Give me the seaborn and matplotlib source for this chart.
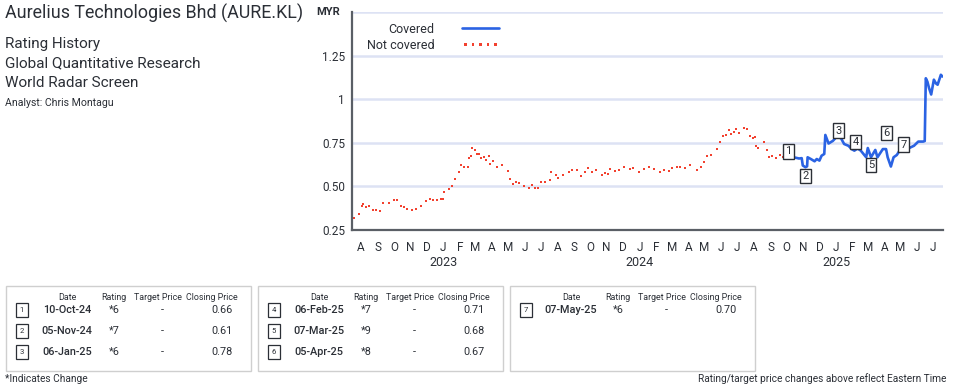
import pandas as pd
import numpy as np
import seaborn as sns
import matplotlib.pyplot as plt
import matplotlib.dates as mdates
from matplotlib.patches import Rectangle

# price history, not covered period
nc_dates = ['2022-07-19', '2022-07-28', '2022-08-02', '2022-08-04', '2022-08-10', '2022-08-16',
            '2022-08-23', '2022-08-29', '2022-09-05', '2022-09-11', '2022-09-21', '2022-10-01',
            '2022-10-06', '2022-10-14', '2022-10-19', '2022-10-26', '2022-11-04', '2022-11-11',
            '2022-11-21', '2022-11-30', '2022-12-07', '2022-12-13', '2022-12-21', '2022-12-27',
            '2023-01-01', '2023-01-03', '2023-01-11', '2023-01-18', '2023-01-23', '2023-01-30',
            '2023-02-03', '2023-02-08', '2023-02-15', '2023-02-18', '2023-02-22', '2023-02-24',
            '2023-03-01', '2023-03-04', '2023-03-08', '2023-03-12', '2023-03-18', '2023-03-21',
            '2023-03-27', '2023-03-29', '2023-04-04', '2023-04-11', '2023-04-20', '2023-05-01',
            '2023-05-05', '2023-05-11', '2023-05-17', '2023-05-22', '2023-05-31', '2023-06-09',
            '2023-06-15', '2023-06-21', '2023-06-27', '2023-07-01', '2023-07-09', '2023-07-18',
            '2023-07-21', '2023-07-29', '2023-08-03', '2023-08-11', '2023-08-23', '2023-08-29',
            '2023-09-07', '2023-09-15', '2023-09-21', '2023-09-27', '2023-10-05', '2023-10-12',
            '2023-10-23', '2023-10-28', '2023-11-04', '2023-11-08', '2023-11-16', '2023-11-24',
            '2023-12-03', '2023-12-14', '2023-12-20', '2023-12-31', '2024-01-09', '2024-01-19',
            '2024-01-28', '2024-02-09', '2024-02-16', '2024-02-25', '2024-03-02', '2024-03-10',
            '2024-03-16', '2024-03-25', '2024-04-05', '2024-04-17', '2024-04-24', '2024-05-01',
            '2024-05-05', '2024-05-14', '2024-05-24', '2024-05-30', '2024-06-04', '2024-06-10',
            '2024-06-15', '2024-06-20', '2024-06-25', '2024-06-29', '2024-07-04', '2024-07-13',
            '2024-07-19', '2024-07-25', '2024-07-30', '2024-08-03', '2024-08-05', '2024-08-08',
            '2024-08-19', '2024-08-25', '2024-08-30', '2024-09-04', '2024-09-11', '2024-09-19',
            '2024-09-25', '2024-09-30', '2024-10-04']
nc_prices = [0.32, 0.34, 0.39, 0.40, 0.38, 0.385,
             0.365, 0.365, 0.36, 0.405, 0.405, 0.42,
             0.42, 0.39, 0.38, 0.373, 0.364, 0.373,
             0.386, 0.417, 0.428, 0.424, 0.424, 0.425,
             0.426, 0.47, 0.485, 0.50, 0.54, 0.58,
             0.625, 0.61, 0.614, 0.663, 0.676, 0.718,
             0.71, 0.686, 0.686, 0.663, 0.667, 0.653,
             0.672, 0.629, 0.644, 0.612, 0.623, 0.591,
             0.544, 0.515, 0.523, 0.521, 0.502, 0.493,
             0.51, 0.493, 0.49, 0.524, 0.524, 0.538,
             0.58, 0.568, 0.549, 0.568, 0.585, 0.595,
             0.595, 0.557, 0.585, 0.606, 0.585, 0.595,
             0.566, 0.576, 0.572, 0.597, 0.591, 0.595,
             0.61, 0.60, 0.606, 0.585, 0.60, 0.614,
             0.60, 0.585, 0.595, 0.591, 0.606, 0.614,
             0.614, 0.604, 0.623, 0.595, 0.61, 0.642,
             0.676, 0.682, 0.714, 0.752, 0.79, 0.795,
             0.824, 0.803, 0.814, 0.828, 0.805, 0.834,
             0.828, 0.79, 0.777, 0.784, 0.733, 0.72,
             0.752, 0.709, 0.667, 0.676, 0.663, 0.678,
             0.67, 0.682, 0.661]

# price history, covered period
cv_dates = ['2024-10-10', '2024-10-17', '2024-10-24', '2024-10-29', '2024-10-31', '2024-11-05',
            '2024-11-08', '2024-11-09', '2024-11-15', '2024-11-22', '2024-11-26', '2024-12-01',
            '2024-12-05', '2024-12-10', '2024-12-12', '2024-12-18', '2024-12-26', '2025-01-02',
            '2025-01-06', '2025-01-10', '2025-01-16', '2025-01-24', '2025-01-30', '2025-02-04',
            '2025-02-10', '2025-02-16', '2025-02-26', '2025-03-01', '2025-03-07', '2025-03-15',
            '2025-03-19', '2025-03-29', '2025-04-04', '2025-04-07', '2025-04-13', '2025-04-18',
            '2025-04-24', '2025-04-30', '2025-05-08', '2025-05-17', '2025-05-26', '2025-06-03',
            '2025-06-12', '2025-06-15', '2025-06-17', '2025-06-20', '2025-06-23', '2025-06-27',
            '2025-07-02', '2025-07-06', '2025-07-09', '2025-07-15', '2025-07-18']
cv_prices = [0.66, 0.665, 0.66, 0.662, 0.62, 0.61,
             0.615, 0.667, 0.657, 0.644, 0.657, 0.648,
             0.676, 0.686, 0.795, 0.746, 0.761, 0.784,
             0.78, 0.777, 0.743, 0.733, 0.714, 0.705,
             0.718, 0.705, 0.667, 0.72, 0.667, 0.709,
             0.667, 0.714, 0.714, 0.667, 0.614, 0.667,
             0.68, 0.709, 0.709, 0.72, 0.733, 0.757,
             0.757, 0.76, 1.12, 1.10, 1.064, 1.027,
             1.112, 1.09, 1.083, 1.14, 1.13]

# rating changes
rating_ids = [1, 2, 3, 4, 5, 6, 7]
rating_dates = ['10-Oct-24', '05-Nov-24', '06-Jan-25', '06-Feb-25', '07-Mar-25', '05-Apr-25', '07-May-25']
rating_iso = ['2024-10-10', '2024-11-05', '2025-01-06', '2025-02-06', '2025-03-07', '2025-04-05', '2025-05-07']
ratings = ['*6', '*7', '*6', '*7', '*9', '*8', '*6']
target_prices = ['-', '-', '-', '-', '-', '-', '-']
closing_prices = [0.66, 0.61, 0.78, 0.71, 0.68, 0.67, 0.70]
# label offset in pixels (dx, dy) for the boxes on the chart
label_offsets = [(-3, 7), (0, -9), (0, 7), (0, 8), (0, -10), (0, 24), (0, 7)]

nc = pd.DataFrame({'date': pd.to_datetime(nc_dates), 'price': nc_prices})
cv = pd.DataFrame({'date': pd.to_datetime(cv_dates), 'price': cv_prices})

sns.set_style("white")
plt.rcParams['font.family'] = ['Roboto', 'DejaVu Sans']

W, H = 954, 386
fig = plt.figure(figsize=(W / 100, H / 100), dpi=100)
ax = fig.add_axes([352 / W, 1 - 230 / H, (943 - 352) / W, (230 - 12) / H])

blue = '#2b63e3'
red = '#f2412f'
dark = '#2b2f36'

sns.lineplot(data=cv, x='date', y='price', ax=ax, color=blue, lw=1.9, label='Covered')
sns.scatterplot(data=nc, x='date', y='price', ax=ax, color=red, marker='s', s=3,
                linewidth=0, label='Not covered')

ax.set_xlim(pd.Timestamp('2022-07-15'), pd.Timestamp('2025-07-19'))
ax.set_ylim(0.25, 1.5)
ax.set_yticks([0.25, 0.5, 0.75, 1.0, 1.25, 1.5])
ax.set_yticklabels(['0.25', '0.50', '0.75', '1', '1.25', ''])
ax.yaxis.grid(True, color='#dde2f4', lw=1.8)
ax.set_axisbelow(True)
ax.set_xlabel('')
ax.set_ylabel('')

ax.xaxis.set_major_locator(mdates.MonthLocator())
ax.xaxis.set_major_formatter(plt.FuncFormatter(lambda v, p: mdates.num2date(v).strftime('%b')[0]))
ax.tick_params(axis='x', length=5, width=1.2, color=dark, labelsize=8.5, labelcolor=dark, pad=3)
ax.tick_params(axis='y', length=0, labelsize=8.5, labelcolor=dark, pad=5)
for s in ['top', 'right']:
    ax.spines[s].set_visible(False)
for s in ['left', 'bottom']:
    ax.spines[s].set_color('#5a5f66')
    ax.spines[s].set_linewidth(1.6)

for yr in [2023, 2024, 2025]:
    ax.text(mdates.date2num(pd.Timestamp(f'{yr}-01-01')), -0.147, str(yr),
            transform=ax.get_xaxis_transform(), ha='center', va='center', fontsize=9, color=dark)

# numbered rating boxes on the chart
for rid, d, p, off in zip(rating_ids, rating_iso, closing_prices, label_offsets):
    ax.annotate(str(rid), (pd.Timestamp(d), p), xytext=(off[0] * 0.72, off[1] * 0.72),
                textcoords='offset points', ha='center', va='center', fontsize=8, color=dark,
                bbox=dict(boxstyle='square,pad=0.2', fc='white', ec=dark, lw=1))

leg = ax.legend(loc='upper left', bbox_to_anchor=(0.012, 0.985), frameon=False, markerfirst=False,
                fontsize=9, handlelength=3.0, scatterpoints=5, scatteryoffsets=[0.5],
                handletextpad=2.2, labelspacing=0.25, borderaxespad=0.2)
for t in leg.get_texts():
    t.set_ha('right')
    t.set_color(dark)
leg._legend_box.align = 'right'

fig.text(328 / W, 1 - 12 / H, 'MYR', ha='center', va='center', fontsize=8, fontweight='bold', color=dark)

# header text
fig.text(5 / W, 1 - 13 / H, 'Aurelius Technologies Bhd (AURE.KL)', fontsize=12.9, va='center', color=dark)
for txt, yy in zip(['Rating History', 'Global Quantitative Research', 'World Radar Screen'], [44, 63, 83]):
    fig.text(5 / W, 1 - yy / H, txt, fontsize=11, va='center', color=dark)
fig.text(5 / W, 1 - 103 / H, 'Analyst: Chris Montagu', fontsize=7.6, va='center', color=dark)

# rating tables
box_lefts = [6, 258, 510]
row_y = [310, 331, 352]
for b, x0 in enumerate(box_lefts):
    fig.add_artist(Rectangle((x0 / W, 1 - 371 / H), 245 / W, 85 / H, transform=fig.transFigure,
                             fill=False, ec='#cfcfcf', lw=1))
    for txt, dx in zip(['Date', 'Rating', 'Target Price', 'Closing Price'], [61, 108, 152, 206]):
        fig.text((x0 + dx) / W, 1 - 297 / H, txt, fontsize=6.4, ha='center', va='center', color=dark)
    for r in range(3):
        i = b * 3 + r
        if i >= len(rating_ids):
            break
        yy = 1 - row_y[r] / H
        fig.text((x0 + 16) / W, yy, str(rating_ids[i]), fontsize=5.5, ha='center', va='center', color=dark,
                 bbox=dict(boxstyle='square,pad=0.5', fc='white', ec=dark, lw=0.9))
        fig.text((x0 + 61) / W, yy, rating_dates[i], fontsize=7.8, ha='center', va='center', color=dark,
                 fontweight='medium')
        fig.text((x0 + 114) / W, yy, ratings[i], fontsize=7.8, ha='right', va='center', color=dark)
        fig.text((x0 + 156) / W, yy, target_prices[i], fontsize=7.8, ha='center', va='center', color=dark)
        fig.text((x0 + 227) / W, yy, f'{closing_prices[i]:.2f}', fontsize=7.8, ha='right', va='center',
                 color=dark)

fig.text(5 / W, 1 - 379 / H, '*Indicates Change', fontsize=7.3, va='center', color=dark)
fig.text(946 / W, 1 - 379 / H, 'Rating/target price changes above reflect Eastern Time', fontsize=7.3,
         ha='right', va='center', color=dark)

fig.savefig('out.png', dpi=100)
